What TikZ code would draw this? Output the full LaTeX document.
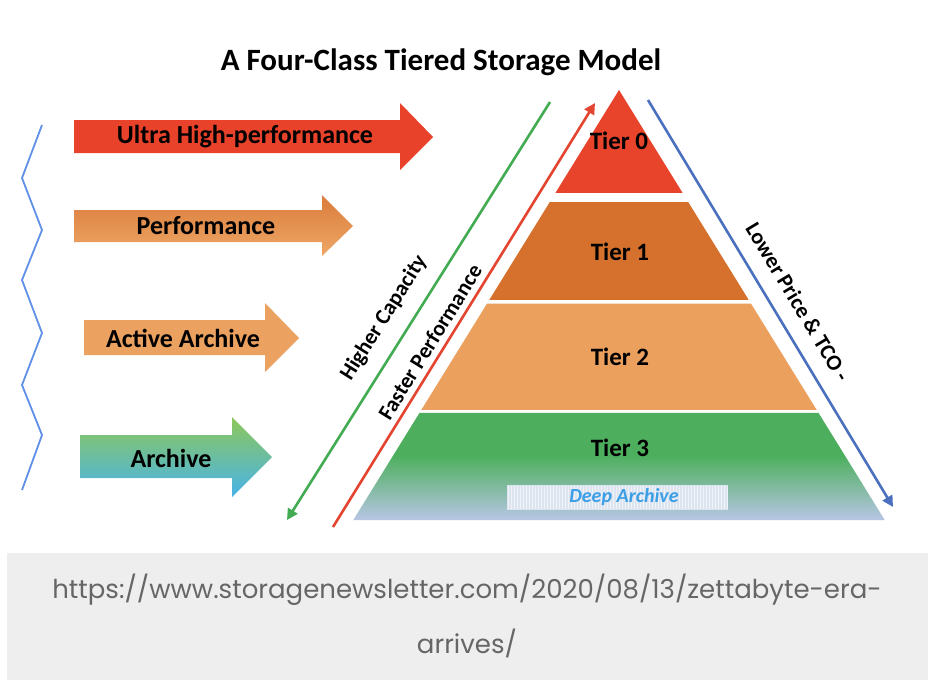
\documentclass[tikz,border=0pt]{standalone}
\usepackage{fontspec}
\setmainfont{Carlito}
\newfontfamily\urlfont{Poppins}
\usetikzlibrary{arrows.meta, calc}

\definecolor{ultrared}{HTML}{E8422B}
\definecolor{perfdark}{HTML}{DA7C3B}
\definecolor{perflight}{HTML}{EEA766}
\definecolor{activeorange}{HTML}{EBA15F}
\definecolor{archgreen}{HTML}{8DC75A}
\definecolor{archmid}{HTML}{4DAE62}
\definecolor{archblue}{HTML}{48B3E8}
\definecolor{tierzero}{HTML}{E8432B}
\definecolor{tierone}{HTML}{D5712D}
\definecolor{tiertwo}{HTML}{EBA05E}
\definecolor{tiergreen}{HTML}{4DAF5E}
\definecolor{tierlav}{HTML}{B7C6E4}
\definecolor{zigblue}{HTML}{6090E8}
\definecolor{capgreen}{HTML}{43AC52}
\definecolor{speedred}{HTML}{E44530}
\definecolor{priceblue}{HTML}{4A70BE}
\definecolor{deepblue}{HTML}{3C9FE6}
\definecolor{deepbox}{HTML}{DCE4F0}
\definecolor{footgray}{HTML}{EEEEEE}
\definecolor{urlgray}{HTML}{666666}

\pgfdeclareverticalshading{tierthree}{100bp}{color(0bp)=(tierlav); color(25bp)=(tierlav); color(55bp)=(tiergreen); color(100bp)=(tiergreen)}

\begin{document}
\begin{tikzpicture}[
    x=1pt, y=-1pt,
    classlabel/.style={font=\fontsize{26}{28}\selectfont\bfseries, text=black, inner sep=0pt},
    tierlabel/.style={font=\fontsize{25}{27}\selectfont\bfseries, text=black, inner sep=0pt},
    sidelabel/.style={font=\fontsize{22}{24}\selectfont\bfseries, text=black, inner sep=0pt},
    slopeline/.style={line width=2.6pt},
    urltext/.style={font=\urlfont\fontsize{26}{28}\selectfont, text=urlgray, inner sep=0pt}
  ]
    \useasboundingbox (0,0) rectangle (950,697);
    \fill[white] (0,0) rectangle (950,697);
    \node[font=\fontsize{31}{33}\selectfont\bfseries, inner sep=0pt] (title) at (441,62) {A Four-Class Tiered Storage Model};

    % zigzag on the left
    \draw[zigblue, line width=1.8pt, line join=round] (42,125) -- (22,178) -- (42,230) -- (22,280)
      -- (42,333) -- (22,385) -- (42,435) -- (22,490);

    % class arrows
    \fill[ultrared] (74,120) -- (400,120) -- (400,103) -- (433,137) -- (400,170) -- (400,153) -- (74,153) -- cycle;
    \shade[top color=perfdark, bottom color=perflight] (74,210) -- (322,210) -- (322,195) -- (353,226)
      -- (322,256) -- (322,242) -- (74,242) -- cycle;
    \fill[activeorange] (84,320) -- (265,320) -- (265,303) -- (299,338) -- (265,372) -- (265,355) -- (84,355) -- cycle;
    \shade[top color=archgreen, middle color=archmid, bottom color=archblue] (80,435) -- (232,435) -- (232,417)
      -- (272,457) -- (232,497) -- (232,478) -- (80,478) -- cycle;
    \node[classlabel] (ultra) at (245,137) {Ultra High-performance};
    \node[classlabel] (perf) at (206,226) {Performance};
    \node[classlabel] (active) at (183,338) {Active Archive};
    \node[classlabel] (archive) at (171,458) {Archive};

    % pyramid
    \coordinate (apex) at (619,90);
    \coordinate (baseL) at (353.3,520);
    \coordinate (baseR) at (884.7,520);
    \fill[tierzero] (apex) -- ($(apex)!0.2395!(baseR)$) -- ($(apex)!0.2395!(baseL)$) -- cycle;
    \fill[tierone] ($(apex)!0.2605!(baseL)$) -- ($(apex)!0.2605!(baseR)$) -- ($(apex)!0.488!(baseR)$) -- ($(apex)!0.488!(baseL)$) -- cycle;
    \fill[tiertwo] ($(apex)!0.497!(baseL)$) -- ($(apex)!0.497!(baseR)$) -- ($(apex)!0.744!(baseR)$) -- ($(apex)!0.744!(baseL)$) -- cycle;
    \shade[shading=tierthree] ($(apex)!0.751!(baseL)$) -- ($(apex)!0.751!(baseR)$) -- (baseR) -- (baseL) -- cycle;
    \fill[deepbox] (507,485) rectangle (728,510);
    \foreach \x in {508,511,...,727}
      \draw[white, opacity=0.55, line width=0.7pt] (\x,486) -- (\x,509);
    \node[tierlabel] (tier0) at (619,141) {Tier 0};
    \node[tierlabel] (tier1) at (620,252) {Tier 1};
    \node[tierlabel] (tier2) at (620,357) {Tier 2};
    \node[tierlabel] (tier3) at (620,448) {Tier 3};
    \node[font=\fontsize{20}{22}\selectfont\bfseries\itshape, text=deepblue, inner sep=0pt] (deep) at (624,497) {Deep Archive};

    % slope arrows
    \coordinate (capTop) at (550,102);
    \coordinate (capBot) at (287,520);
    \coordinate (perfBot) at (333,527);
    \coordinate (perfTop) at (595,103);
    \coordinate (priceTop) at (648,100);
    \coordinate (priceBot) at (893,507);
    \draw[slopeline, capgreen, -{Triangle[length=11pt, width=11pt]}] (capTop) -- (capBot);
    \draw[slopeline, speedred, -{Triangle[length=11pt, width=11pt]}] (perfBot) -- (perfTop);
    \draw[slopeline, priceblue, -{Triangle[length=11pt, width=11pt]}] (priceTop) -- (priceBot);
    \node[sidelabel, rotate=57.8] (caplabel) at (384,318) {Higher Capacity};
    \node[sidelabel, rotate=58.3] (perflabel) at (430,342) {Faster Performance};
    \node[sidelabel, rotate=-58.9] (pricelabel) at (798,302) {Lower Price \& TCO -};

    % source caption
    \fill[footgray] (7,553) rectangle (928,680);
    \node[urltext] (url) at (467,590) {https://www.storagenewsletter.com/2020/08/13/zettabyte-era-};
    \node[urltext] (urlend) at (467,643) {arrives/};
  \end{tikzpicture}
\end{document}
